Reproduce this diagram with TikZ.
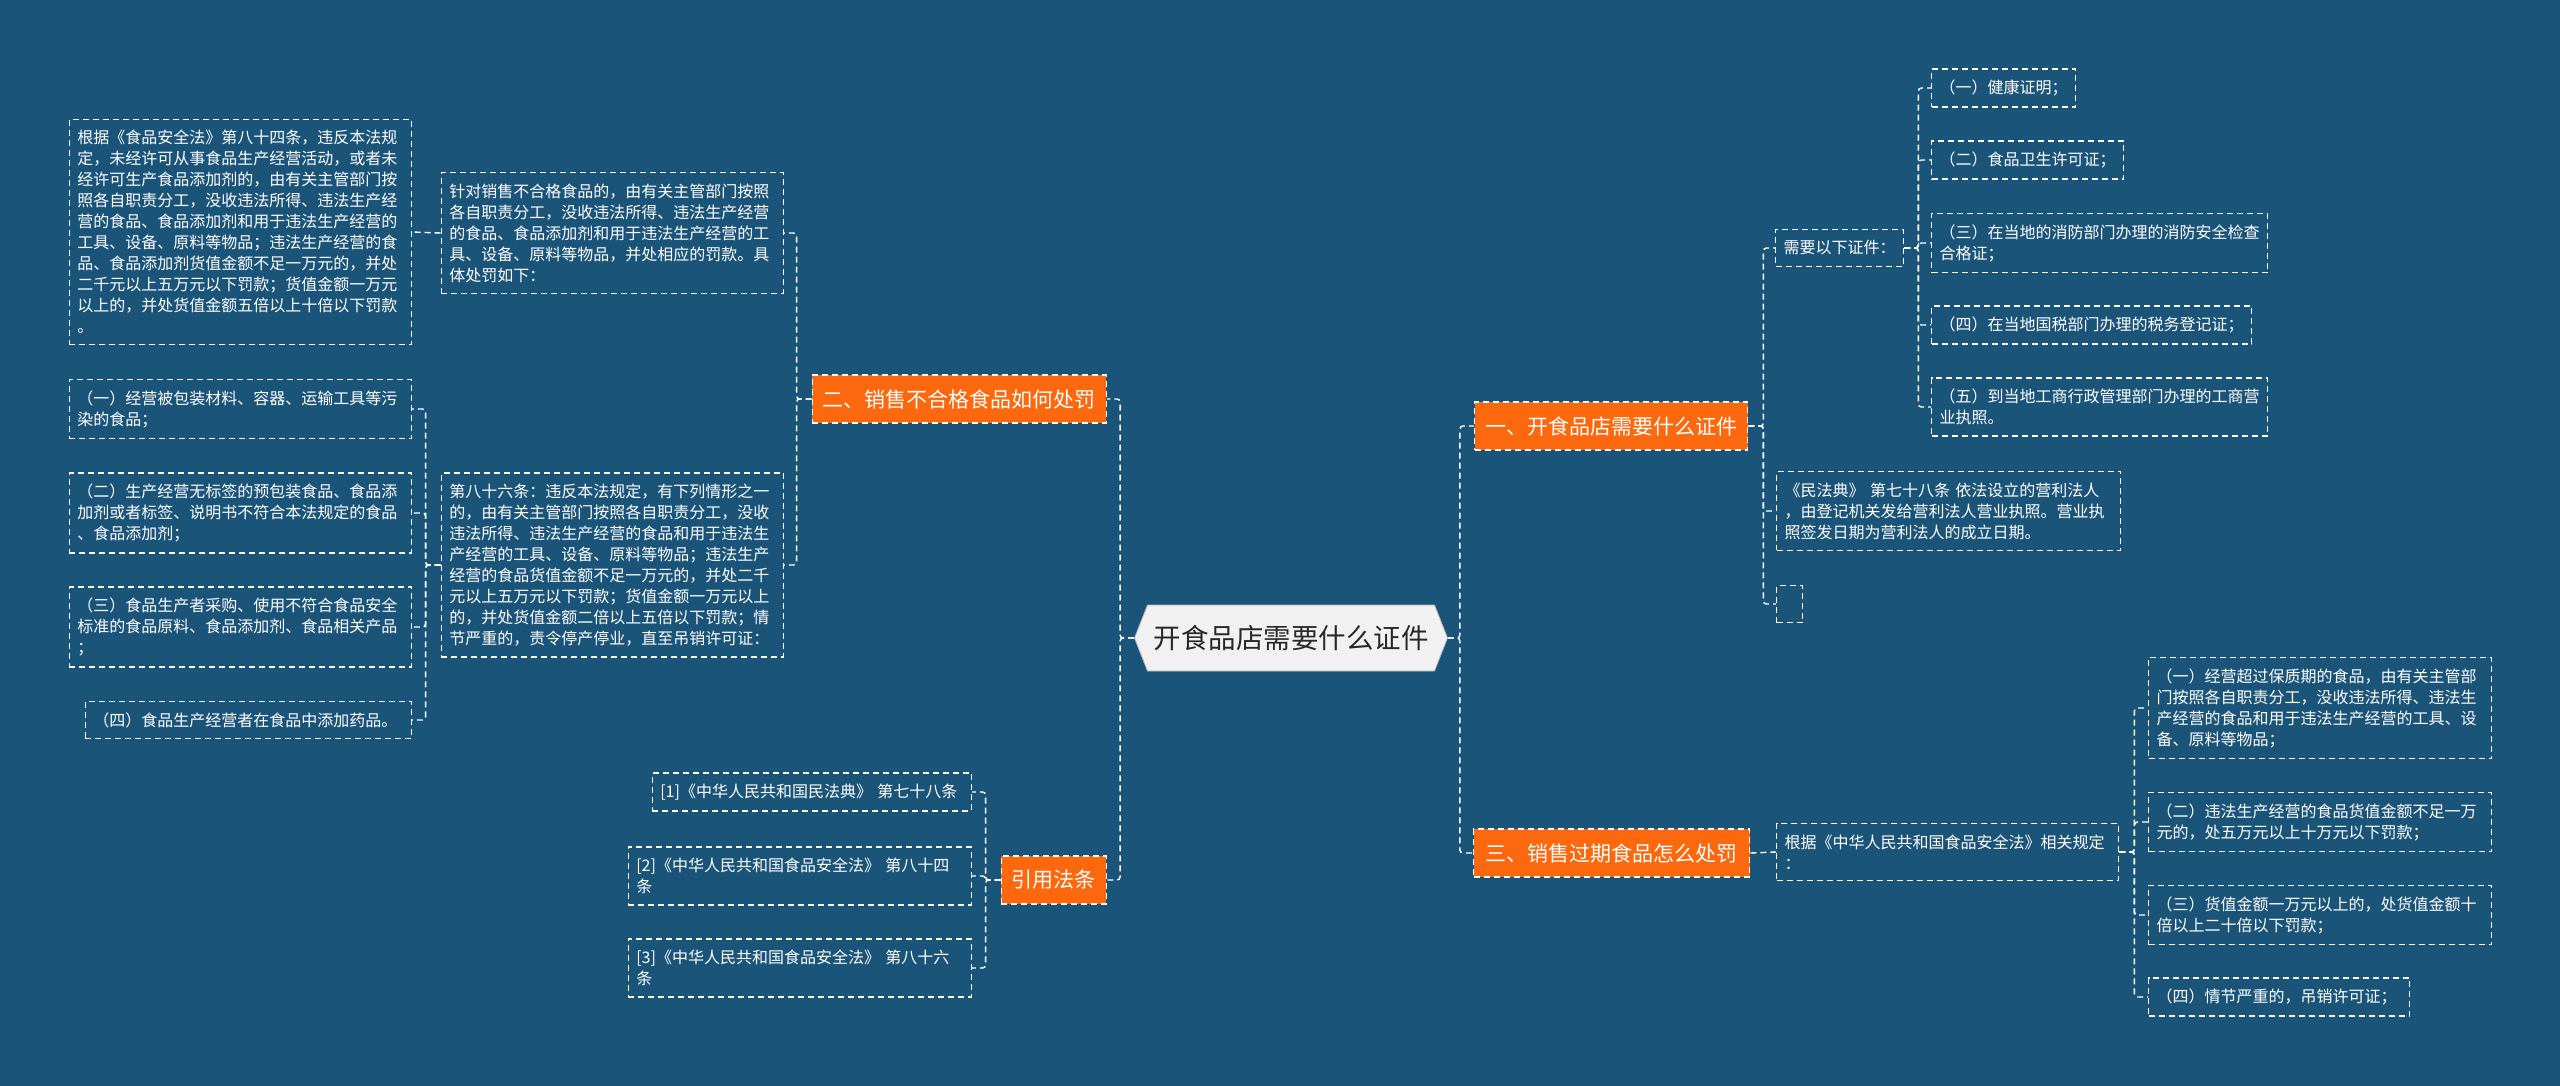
\documentclass[tikz,border=0pt]{standalone}
\usepackage{fontspec}
\setmainfont{Noto Sans CJK SC}
\usetikzlibrary{shapes.symbols}

\definecolor{bgblue}{RGB}{27,84,121}
\definecolor{topicorange}{RGB}{252,104,14}
\definecolor{rootgray}{RGB}{241,241,241}
\definecolor{roottext}{RGB}{40,40,40}

\tikzset{
    dashline/.style={draw=white, line width=1.4pt, dash pattern=on 6pt off 4pt},
    link/.style={dashline, rounded corners=3pt},
    leafbox/.style={dashline, text=white, font=\fontsize{16}{21}\selectfont,
        align=left, inner xsep=8pt, inner ysep=11pt},
    topicbox/.style={dashline, fill=topicorange, text=white,
        font=\fontsize{21}{25}\selectfont, inner xsep=0pt,
        minimum height=48pt, minimum width=#1},
    rootbox/.style={shape=signal, signal to=west and east,
        signal pointer angle=137, fill=rootgray, draw=rootgray!75!black,
        line width=0.8pt, text=roottext, font=\fontsize{27.5}{31}\selectfont,
        minimum width=313pt, minimum height=66pt},
}

\begin{document}
\begin{tikzpicture}[x=1pt, y=-1pt]
    \useasboundingbox (0,0) rectangle (2560,1086);
    \fill[bgblue] (0,0) rectangle (2560,1086);

    % centre
    \node[rootbox] (root) at (1291,638) {开食品店需要什么证件};

    % left branches
    \node[topicbox=294pt, anchor=east] (sale) at (1107,399) {二、销售不合格食品如何处罚};
    \node[topicbox=105pt, anchor=east] (cite) at (1107,880) {引用法条};

    \node[leafbox, text width=326pt, anchor=east] (dealing) at (784,233) {%
        针对销售不合格食品的，由有关主管部门按照\\
        各自职责分工，没收违法所得、违法生产经营\\
        的食品、食品添加剂和用于违法生产经营的工\\
        具、设备、原料等物品，并处相应的罚款。具\\
        体处罚如下：};
    \node[leafbox, text width=326pt, anchor=east] (art84) at (412,232) {%
        根据《食品安全法》第八十四条，违反本法规\\
        定，未经许可从事食品生产经营活动，或者未\\
        经许可生产食品添加剂的，由有关主管部门按\\
        照各自职责分工，没收违法所得、违法生产经\\
        营的食品、食品添加剂和用于违法生产经营的\\
        工具、设备、原料等物品；违法生产经营的食\\
        品、食品添加剂货值金额不足一万元的，并处\\
        二千元以上五万元以下罚款；货值金额一万元\\
        以上的，并处货值金额五倍以上十倍以下罚款\\
        。};
    \node[leafbox, text width=326pt, anchor=east] (art86) at (784,565) {%
        第八十六条：违反本法规定，有下列情形之一\\
        的，由有关主管部门按照各自职责分工，没收\\
        违法所得、违法生产经营的食品和用于违法生\\
        产经营的工具、设备、原料等物品；违法生产\\
        经营的食品货值金额不足一万元的，并处二千\\
        元以上五万元以下罚款；货值金额一万元以上\\
        的，并处货值金额二倍以上五倍以下罚款；情\\
        节严重的，责令停产停业，直至吊销许可证：};

    \node[leafbox, text width=326pt, anchor=east] (pollute) at (412,409) {%
        （一）经营被包装材料、容器、运输工具等污\\
        染的食品；};
    \node[leafbox, text width=326pt, anchor=east] (nolabel) at (412,513) {%
        （二）生产经营无标签的预包装食品、食品添\\
        加剂或者标签、说明书不符合本法规定的食品\\
        、食品添加剂；};
    \node[leafbox, text width=326pt, anchor=east] (rawmat) at (412,627) {%
        （三）食品生产者采购、使用不符合食品安全\\
        标准的食品原料、食品添加剂、食品相关产品\\
        ；};
    \node[leafbox, text width=310pt, anchor=east] (drugs) at (412,720) {%
        （四）食品生产经营者在食品中添加药品。};

    \node[leafbox, text width=303pt, anchor=east] (refA) at (972,792) {%
        [1]《中华人民共和国民法典》 第七十八条};
    \node[leafbox, text width=327pt, anchor=east] (refB) at (972,876) {%
        [2]《中华人民共和国食品安全法》 第八十四\\
        条};
    \node[leafbox, text width=327pt, anchor=east] (refC) at (972,968) {%
        [3]《中华人民共和国食品安全法》 第八十六\\
        条};

    % right branches
    \node[topicbox=273pt, anchor=west] (license) at (1474,426) {一、开食品店需要什么证件};
    \node[topicbox=276pt, anchor=west] (expired) at (1473,853) {三、销售过期食品怎么处罚};

    \node[leafbox, text width=112pt, anchor=west] (need) at (1775,248) {需要以下证件：};
    \node[leafbox, text width=128pt, anchor=west] (health) at (1931,88) {（一）健康证明；};
    \node[leafbox, text width=176pt, anchor=west] (hygiene) at (1931,160) {（二）食品卫生许可证；};
    \node[leafbox, text width=320pt, anchor=west] (fire) at (1931,243) {%
        （三）在当地的消防部门办理的消防安全检查\\
        合格证；};
    \node[leafbox, text width=304pt, anchor=west] (tax) at (1931,325) {%
        （四）在当地国税部门办理的税务登记证；};
    \node[leafbox, text width=320pt, anchor=west] (business) at (1931,407) {%
        （五）到当地工商行政管理部门办理的工商营\\
        业执照。};

    \node[leafbox, text width=328pt, anchor=west] (civil) at (1776,511) {%
        《民法典》 第七十八条 依法设立的营利法人\\
        ，由登记机关发给营利法人营业执照。营业执\\
        照签发日期为营利法人的成立日期。};
    \node[dashline, minimum width=26pt, minimum height=37pt, anchor=west] (blank) at (1776,604) {};

    \node[leafbox, text width=326pt, anchor=west] (basis) at (1776,852) {%
        根据《中华人民共和国食品安全法》相关规定\\
        ：};
    \node[leafbox, text width=327pt, anchor=west] (overdue) at (2148,708) {%
        （一）经营超过保质期的食品，由有关主管部\\
        门按照各自职责分工，没收违法所得、违法生\\
        产经营的食品和用于违法生产经营的工具、设\\
        备、原料等物品；};
    \node[leafbox, text width=327pt, anchor=west] (under) at (2148,822) {%
        （二）违法生产经营的食品货值金额不足一万\\
        元的，处五万元以上十万元以下罚款；};
    \node[leafbox, text width=327pt, anchor=west] (over) at (2148,915) {%
        （三）货值金额一万元以上的，处货值金额十\\
        倍以上二十倍以下罚款；};
    \node[leafbox, text width=245pt, anchor=west] (severe) at (2148,997) {%
        （四）情节严重的，吊销许可证；};

    % connectors
    \foreach \c in {sale, cite}
        \draw[link] (root.west) -- ++(-14,0) |- (\c.east);
    \foreach \c in {license, expired}
        \draw[link] (root.east) -- ++(12,0) |- (\c.west);

    \foreach \c in {dealing, art86}
        \draw[link] (sale.west) -- ++(-15,0) |- (\c.east);
    \draw[link] (dealing.west) -- (art84.east);
    \foreach \c in {pollute, nolabel, rawmat, drugs}
        \draw[link] (art86.west) -- ++(-15,0) |- (\c.east);
    \foreach \c in {refA, refB, refC}
        \draw[link] (cite.west) -- ++(-15,0) |- (\c.east);

    \foreach \c in {need, civil, blank}
        \draw[link] (license.east) -- ++(15,0) |- (\c.west);
    \foreach \c in {health, hygiene, fire, tax, business}
        \draw[link] (need.east) -- ++(14,0) |- (\c.west);
    \draw[link] (expired.east) -- (basis.west);
    \foreach \c in {overdue, under, over, severe}
        \draw[link] (basis.east) -- ++(15,0) |- (\c.west);
\end{tikzpicture}
\end{document}
